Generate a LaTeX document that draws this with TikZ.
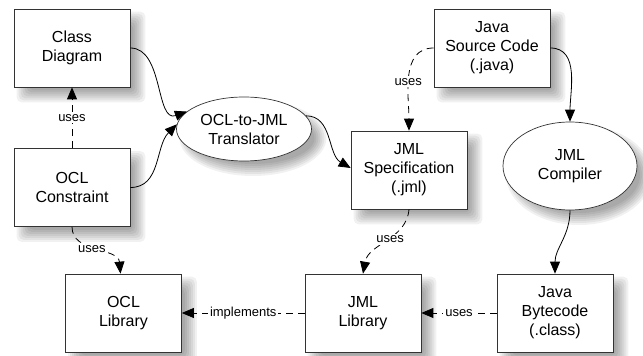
\documentclass[tikz,border=0pt]{standalone}
\usepackage{fontspec}
\setmainfont{Liberation Sans}
\usetikzlibrary{arrows.meta,shapes.geometric,calc}
\pgfdeclarelayer{background}
\pgfsetlayers{background,main}
\newcommand\boxshadow[1]{%
  \foreach \r in {-6,-4,...,6} {%
    \fill[black, opacity=0.055, rounded corners=5pt]
      ($(#1.south west)+(9-\r,-9-\r)$) rectangle ($(#1.north east)+(9+\r,-9+\r)$);}}
\newcommand\ellshadow[3]{%
  \foreach \r in {-6,-4,...,6} {%
    \fill[black, opacity=0.055] ($(#1.center)+(9,-9)$) ellipse [x radius=#2+\r, y radius=#3+\r];}}
\begin{document}
\begin{tikzpicture}[x=1pt,y=1pt,
  box/.style={draw=black!80, line width=0.7pt, fill=white, minimum width=116pt, minimum height=78pt, align=center, font=\fontsize{16}{19}\selectfont, inner sep=0pt},
  proc/.style={ellipse, draw=black!80, line width=0.7pt, fill=white, align=center, font=\fontsize{16}{19}\selectfont, inner sep=0pt},
  conn/.style={line width=0.8pt, -{Triangle[length=12pt,width=10pt]}},
  dep/.style={conn, dash pattern=on 7pt off 5pt},
  lbl/.style={fill=white, font=\fontsize{13}{15}\selectfont, inner sep=2pt}
]
\useasboundingbox (0,0) rectangle (643,356);

\node[box] (cd) at (72,308) {Class\\Diagram};
\node[box] (oc) at (72,168.5) {OCL\\Constraint};
\node[proc, minimum width=135pt, minimum height=64pt] (tr) at (244,227) {OCL-to-JML\\Translator};
\node[box] (js) at (492,308) {Java\\Source Code\\(.java)};
\node[box] (spec) at (409,186) {JML\\Specification\\(.jml)};
\node[proc, minimum width=134pt, minimum height=88pt] (comp) at (570,190) {JML\\Compiler};
\node[box] (ol) at (123.5,43) {OCL\\Library};
\node[box] (jl) at (363,43) {JML\\Library};
\node[box] (jb) at (555,43) {Java\\Bytecode\\(.class)};

\begin{pgfonlayer}{background}
  \fill[white] (0,0) rectangle (643,356);
  \boxshadow{cd}\boxshadow{oc}\boxshadow{js}\boxshadow{spec}
  \boxshadow{ol}\boxshadow{jl}\boxshadow{jb}
  \ellshadow{tr}{67.5}{32}\ellshadow{comp}{67}{44}
\end{pgfonlayer}

\draw[conn] (cd.east) to[out=0, in=200] (tr.163);
\draw[conn] (oc.east) to[out=0, in=225] (tr.176);
\draw[dep] (oc.north) -- node[lbl] {uses} (cd.south);
\draw[conn] (tr.12) to[out=0, in=150] ([yshift=2pt]spec.west);
\draw[dep] (js.west) to[out=180, in=90] node[lbl, pos=0.55] {uses} (spec.north);
\draw[conn] (js.east) to[out=0, in=90] (comp.north);
\draw[conn] (comp.south) to[out=-90, in=90] (jb.north);
\draw[dep] (oc.south) to[out=-90, in=95] node[lbl, pos=0.45] {uses} ([xshift=-3pt]ol.north);
\draw[dep] (spec.south) to[out=-95, in=80] node[lbl, pos=0.45] {uses} (jl.north);
\draw[dep] (jl.west) -- node[lbl] {implements} (ol.east);
\draw[dep] (jb.west) -- node[lbl] {uses} (jl.east);
\end{tikzpicture}
\end{document}
